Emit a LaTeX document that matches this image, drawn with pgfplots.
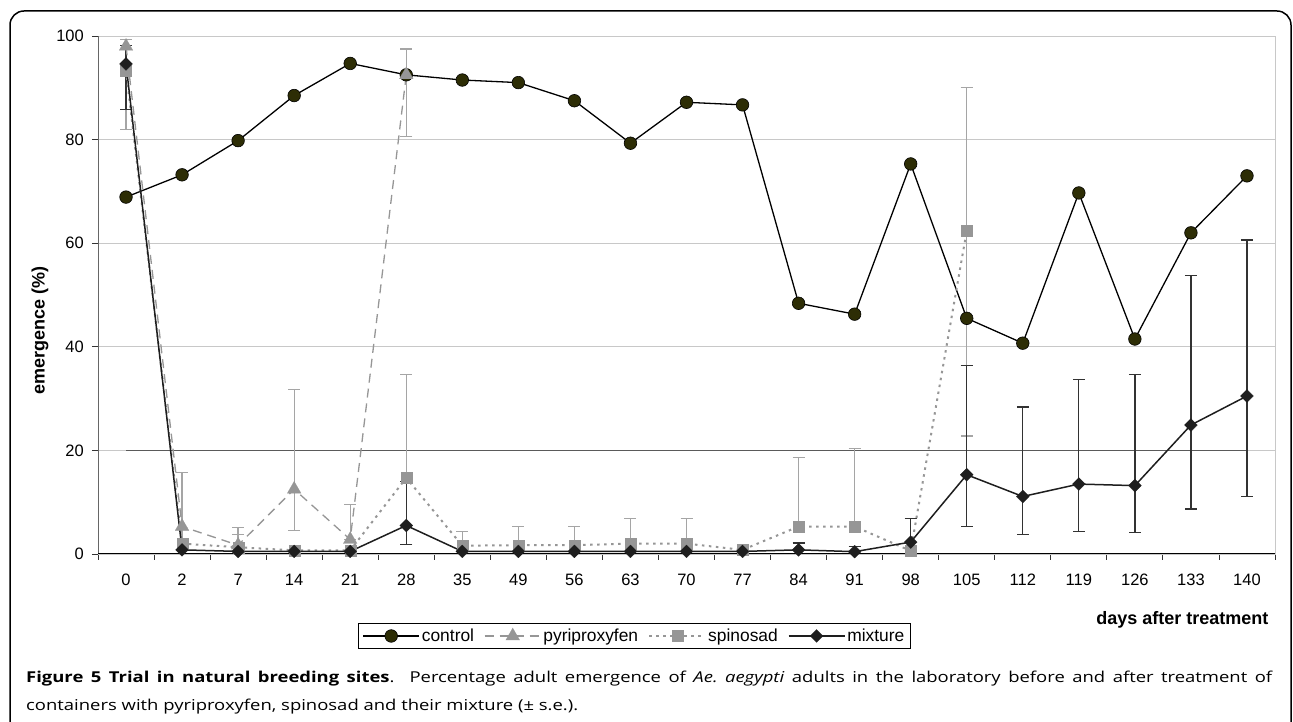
\documentclass[border=0pt]{standalone}
\usepackage{fontspec}
\setmainfont{Liberation Sans}
\newfontfamily\capfont{Open Sans}
\usepackage{graphicx}
\usepackage{pgfplots}
\pgfplotsset{compat=1.18}

\definecolor{ctrlfill}{RGB}{45,45,5}
\definecolor{lightser}{RGB}{150,150,150}
\definecolor{errlight}{RGB}{165,165,165}
\definecolor{mixdark}{RGB}{30,30,30}
\definecolor{errdark}{RGB}{50,50,50}
\definecolor{gridc}{RGB}{200,200,200}
\definecolor{refline}{RGB}{90,90,90}

\newlength\captwo
\newcommand\captiontwo{containers with pyriproxyfen, spinosad and their mixture (± s.e.).}

\begin{document}
% caption: second line is 552pt wide in the reference, the face is widened to fit
\settowidth\captwo{\fontsize{15}{18}\selectfont\capfont\frenchspacing\captiontwo}%
\pgfmathsetmacro\capscale{552/\captwo}%
\pgfmathsetlengthmacro\capwidth{1246/\capscale}%
\begin{tikzpicture}[x=1pt,y=1pt]
\path[use as bounding box] (0,0) rectangle (1293,722);
% rounded panel frame
\draw[line width=1.5pt, rounded corners=14pt] (10,-14) -- (10,711) -- (1291,711) -- (1291,-14);

\begin{axis}[
  at={(98pt,168pt)}, anchor=south west,
  scale only axis, width=1177pt, height=518pt,
  xmin=-0.5, xmax=20.5, ymin=0, ymax=100,
  xtick={0,...,20},
  xticklabels={0,2,7,14,21,28,35,49,56,63,70,77,84,91,98,105,112,119,126,133,140},
  minor xtick={-0.5,0.5,...,20.5},
  ytick={0,20,...,100},
  tick pos=left,
  tick align=outside,
  major tick length=6pt, minor tick length=6pt,
  major x tick style={draw=none},
  tick style={black!80, line width=0.9pt},
  ymajorgrids, grid style={gridc, line width=0.9pt},
  axis line style={gridc, line width=0.9pt},
  /pgf/number format/assume math mode=true,
  ticklabel style={font=\fontsize{16.5}{19}\selectfont},
  xticklabel style={anchor=base, yshift=-26pt},
  yticklabel style={anchor=east, inner sep=0pt, xshift=-8pt},
  xlabel={\bfseries days after treatment},
  xlabel style={font=\fontsize{18}{21}\selectfont, at={(axis description cs:0.9975,-0.1274)}, anchor=east},
  ylabel={\bfseries emergence (\%)},
  ylabel style={font=\fontsize{18}{21}\selectfont, at={(axis description cs:-0.0493,0.432)}, anchor=center},
  legend columns=4,
  legend style={at={(axis description cs:0.4558,-0.1583)}, anchor=center,
    draw=black, line width=0.9pt, font=\fontsize{17.4}{20}\selectfont,
    inner xsep=4pt, inner ysep=3pt,
    /tikz/every even column/.append style={column sep=8pt}},
  legend image code/.code={
    \draw[#1] (0pt,0pt) -- (56pt,0pt);
    \draw[#1, only marks] plot coordinates {(28pt,0pt)};
  },
  clip=true,
]

% 20 % reference line
\addplot[refline, line width=1.5pt, forget plot] coordinates {(0,20) (20,20)};

% error bars (only where they are shown)
\addplot[draw=none, mark=none, forget plot,
  error bars/.cd, y dir=both, y explicit,
  error bar style={draw=errlight, line width=1.3pt, solid},
  error mark options={rotate=90, draw=errlight, mark size=6pt, line width=1.3pt}]
coordinates {
  (0,98.0) += (0,1.3) -= (0,16.0)
  (1,5.3) += (0,10.4) -= (0,5.3)
  (2,1.7) += (0,3.4) -= (0,0)
  (3,12.5) += (0,19.3) -= (0,7.9)
  (4,2.8) += (0,6.7) -= (0,0)
  (5,92.5) += (0,5.0) -= (0,11.9)
};
\addplot[draw=none, mark=none, forget plot,
  error bars/.cd, y dir=plus, y explicit,
  error bar style={draw=errlight, line width=1.3pt, solid},
  error mark options={rotate=90, draw=errlight, mark size=6pt, line width=1.3pt}]
coordinates {
  (2,1.3) +- (0,2.4)
  (5,14.7) +- (0,20.0)
  (6,1.6) +- (0,2.8)
  (7,1.7) +- (0,3.6)
  (8,1.7) +- (0,3.6)
  (9,2.0) +- (0,4.9)
  (10,2.0) +- (0,4.9)
  (12,5.3) +- (0,13.3)
  (13,5.3) +- (0,15.1)
};
\addplot[draw=none, mark=none, forget plot,
  error bars/.cd, y dir=both, y explicit,
  error bar style={draw=errlight, line width=1.3pt, solid},
  error mark options={rotate=90, draw=errlight, mark size=6pt, line width=1.3pt}]
coordinates {
  (15,62.4) += (0,27.6) -= (0,39.6)
};
\addplot[draw=none, mark=none, forget plot,
  error bars/.cd, y dir=both, y explicit,
  error bar style={draw=errdark, line width=1.3pt, solid},
  error mark options={rotate=90, draw=errdark, mark size=6pt, line width=1.3pt}]
coordinates {
  (0,94.6) += (0,3.5) -= (0,8.8)
  (5,5.5) += (0,8.5) -= (0,3.6)
  (12,0.8) += (0,1.3) -= (0,0.8)
  (13,0.45) += (0,1.05) -= (0,0.45)
  (14,2.3) += (0,4.6) -= (0,2.3)
  (15,15.3) += (0,21.1) -= (0,10.0)
  (16,11.1) += (0,17.3) -= (0,7.4)
  (17,13.5) += (0,20.2) -= (0,9.1)
  (18,13.2) += (0,21.5) -= (0,9.0)
  (19,24.9) += (0,28.8) -= (0,16.2)
  (20,30.5) += (0,30.1) -= (0,19.4)
};

% control
\addplot[black, line width=1.3pt, mark=*, mark size=6.3pt,
  mark options={fill=ctrlfill, draw=black, line width=0.6pt, solid}]
coordinates {
  (0,68.9) (1,73.2) (2,79.8) (3,88.5) (4,94.7) (5,92.5) (6,91.5)
  (7,91.0) (8,87.5) (9,79.3) (10,87.2) (11,86.7) (12,48.4) (13,46.3)
  (14,75.3) (15,45.5) (16,40.7) (17,69.7) (18,41.5) (19,62.0) (20,73.0)
};
\addlegendentry{control}

% pyriproxyfen
\addplot[lightser, line width=1.3pt, dash pattern=on 9pt off 6pt,
  mark=triangle*, mark size=8pt,
  mark options={fill=lightser, draw=lightser, line width=0.1pt, solid}]
coordinates {
  (0,98.0) (1,5.3) (2,1.7) (3,12.5) (4,2.8) (5,92.5)
};
\addlegendentry{pyriproxyfen}

% spinosad
\addplot[lightser, line width=2pt, dash pattern=on 2.5pt off 4.5pt,
  mark=square*, mark size=5.5pt,
  mark options={fill=lightser, draw=lightser, line width=0.1pt, solid}]
coordinates {
  (0,93.3) (1,2.0) (2,1.3) (3,0.7) (4,0.7) (5,14.7) (6,1.6) (7,1.7)
  (8,1.7) (9,2.0) (10,2.0) (11,0.8) (12,5.3) (13,5.3) (14,0.6) (15,62.4)
};
\addlegendentry{spinosad}

% mixture
\addplot[mixdark, line width=1.5pt, mark=square*, mark size=4.6pt,
  mark options={rotate=45, fill=mixdark, draw=mixdark, line width=0.1pt, solid}]
coordinates {
  (0,94.6) (1,0.8) (2,0.5) (3,0.5) (4,0.5) (5,5.5) (6,0.5) (7,0.5)
  (8,0.5) (9,0.5) (10,0.5) (11,0.5) (12,0.8) (13,0.45) (14,2.3)
  (15,15.3) (16,11.1) (17,13.5) (18,13.2) (19,24.9) (20,30.5)
};
\addlegendentry{mixture}

% axis lines at left and bottom
\draw[black!60, line width=1.2pt] (rel axis cs:0,0) -- (rel axis cs:0,1);
\draw[black, line width=1.6pt] (rel axis cs:0,0) -- (rel axis cs:1,0);
\end{axis}

\node[anchor=base west, inner sep=0pt] at (26,39)
  {\scalebox{\capscale}[1]{\fontsize{15}{18}\selectfont\capfont\frenchspacing\makebox[\capwidth][s]{\textbf{Figure 5 Trial in natural breeding sites}. \ Percentage adult emergence of \textit{Ae. aegypti} adults in the laboratory before and after treatment of}}};
\node[anchor=base west, inner sep=0pt] at (26,11.3)
  {\scalebox{\capscale}[1]{\fontsize{15}{18}\selectfont\capfont\frenchspacing\captiontwo}};
\end{tikzpicture}
\end{document}
